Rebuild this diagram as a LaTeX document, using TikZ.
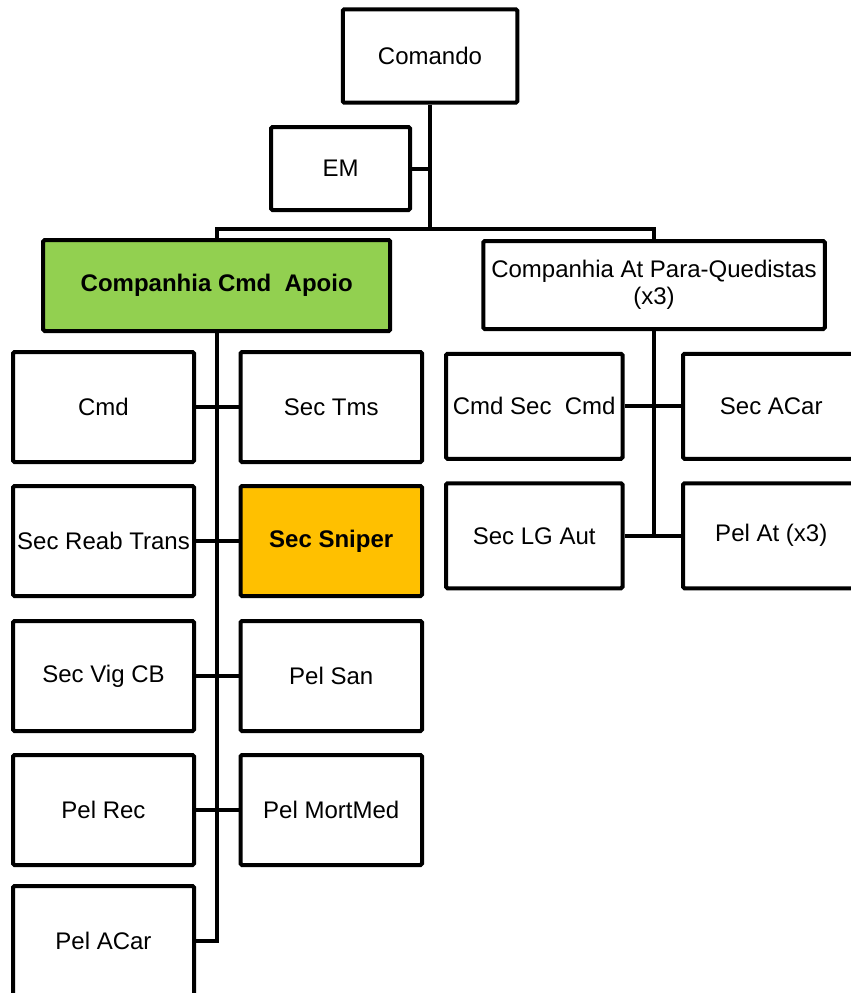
\documentclass[tikz,border=0pt]{standalone}
\usepackage{fontspec}
\setmainfont{Liberation Sans}
\definecolor{cgreen}{HTML}{92D050}
\definecolor{corange}{HTML}{FFC000}
\begin{document}
\begin{tikzpicture}[x=1pt,y=-1pt,
  box/.style={draw=black, line width=4pt, rounded corners=1.5pt, fill=white, inner sep=1pt, align=center,
    font=\fontsize{24}{27}\selectfont},
  lnk/.style={draw=black, line width=4pt, line join=miter},
  lcol/.style={box, minimum width=181pt, minimum height=110pt},
  rcol/.style={box, minimum width=181.5pt, minimum height=110pt},
  pcol/.style={box, minimum width=176.5pt, minimum height=105pt}]
\useasboundingbox (0,0) rectangle (851,993);
\clip (0,0) rectangle (851,993);
% top
\node[box, minimum width=174.5pt, minimum height=93.4pt] (com) at (430,56) {Comando};
\node[box, minimum width=139pt, minimum height=83pt] (em) at (340.5,168.5) {EM};
\node[box, fill=cgreen, minimum width=347pt, minimum height=91pt, font=\fontsize{24}{27}\selectfont\bfseries] (cca) at (216.7,285.5) {Companhia Cmd\ \ Apoio};
\node[box, minimum width=341.5pt, minimum height=88pt] (cpq) at (654,285) {Companhia At Para-Quedistas\\(x3)};
\coordinate (bus) at (430,229);
% left group
\node[lcol] (cmd) at (103.5,407) {Cmd};
\node[lcol] (reab) at (103.5,541) {Sec Reab Trans};
\node[lcol] (vig) at (103.5,676) {Sec Vig CB};
\node[lcol] (rec) at (103.5,810) {Pel Rec};
\node[lcol] (pacar) at (103.5,941) {Pel ACar};
\node[rcol] (tms) at (331.25,407) {Sec Tms};
\node[rcol, fill=corange, font=\fontsize{24}{27}\selectfont\bfseries] (snip) at (331.25,541) {Sec Sniper};
\node[rcol] (san) at (331.25,676) {Pel San};
\node[rcol] (mort) at (331.25,810) {Pel MortMed};
% right group
\node[pcol] (csc) at (534.25,406.25) {Cmd Sec\ \ Cmd};
\node[pcol] (lg) at (534.25,535.75) {Sec LG Aut};
\node[pcol] (sacar) at (771.25,406.25) {Sec ACar};
\node[pcol] (pelat) at (771.25,535.75) {Pel At (x3)};
% connectors
\draw[lnk] (com.south) -- (com.south |- bus);
\draw[lnk] (em.east) -- (em.east -| com.south);
\draw[lnk] (cca.north) -- (cca.north |- bus) -- (cpq.north |- bus) -- (cpq.north);
\draw[lnk] (cca.south) -- (cca.south |- pacar.east) -- (pacar.east);
\draw[lnk] (cmd.east) -- (tms.west);
\draw[lnk] (reab.east) -- (snip.west);
\draw[lnk] (vig.east) -- (san.west);
\draw[lnk] (rec.east) -- (mort.west);
\draw[lnk] (cpq.south) -- (cpq.south |- lg.east);
\draw[lnk] (csc.east) -- (sacar.west);
\draw[lnk] (lg.east) -- (pelat.west);
\end{tikzpicture}
\end{document}
